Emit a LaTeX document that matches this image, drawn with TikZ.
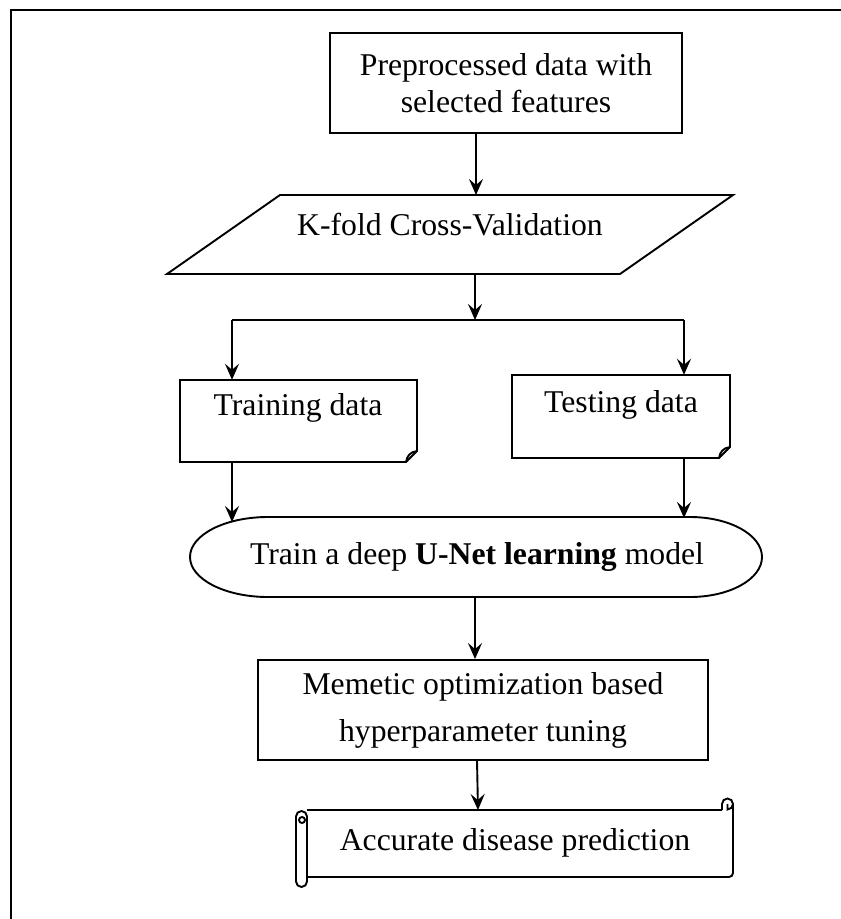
\documentclass[tikz,border=0pt]{standalone}
\usepackage{fontspec}
\setmainfont{Liberation Serif}
\usetikzlibrary{arrows.meta}
\begin{document}
\begin{tikzpicture}[x=1pt,y=-1pt,
  every node/.style={font=\fontsize{31.7}{37}\selectfont, inner sep=0pt},
  shp/.style={draw, line width=1.9pt},
  arr/.style={line width=1.9pt, -{Stealth[length=16pt,width=14pt,inset=6pt]}},
  ln/.style={line width=1.9pt},
  txt/.style={align=center}]
\useasboundingbox (0,0) rectangle (841,919);
% outer frame
\draw[line width=2.6pt] (841,10) -- (11,10) -- (11,919);

% box 1
\node[shp, txt, minimum width=352pt, minimum height=100pt] (b1) at (506,83) {Preprocessed data with\\selected features};

% parallelogram
\coordinate (kfTL) at (280,195);
\coordinate (kfTR) at (733,195);
\coordinate (kfBR) at (620,274);
\coordinate (kfBL) at (167,274);
\draw[shp] (kfTL) -- (kfTR) -- (kfBR) -- (kfBL) -- cycle;
\node[txt] (kf) at (450,225) {K-fold Cross-Validation};
\coordinate (kftop) at (476,195);
\coordinate (kfbot) at (475,274);

% split
\coordinate (split) at (475,320);
\coordinate (splitL) at (232,320);
\coordinate (splitR) at (684,320);

% training document
\draw[shp] (180,380) -- (417,380) -- (417,451) -- (406,462) -- (180,462) -- cycle;
\draw[shp] (406,462) .. controls (407,456) and (410,452) .. (417,451);
\node (train) at (298.5,421) [minimum width=237pt, minimum height=82pt] {};
\node[txt] (traintxt) at (298,408) {Training data};

% testing document
\draw[shp] (512,375) -- (730,375) -- (730,447) -- (719,458) -- (512,458) -- cycle;
\draw[shp] (719,458) .. controls (720,452) and (723,448) .. (730,447);
\node (test) at (621,416.5) [minimum width=218pt, minimum height=83pt] {};
\node[txt] (testtxt) at (621,405) {Testing data};

% terminal
\draw[shp] (268,517) -- (690,517) arc[start angle=90, end angle=-90, x radius=72pt, y radius=40pt]
  -- (268,597) arc[start angle=270, end angle=90, x radius=78pt, y radius=40pt] -- cycle;
\node (term) at (476,557) [minimum width=572pt, minimum height=80pt] {};
\node[txt] (termtxt) at (477,557) {Train a deep \textbf{U-Net learning} model};

% memetic box
\node[shp, txt, minimum width=450pt, minimum height=100pt, font=\fontsize{31.7}{47}\selectfont] (mem) at (483,710) {Memetic optimization based\\hyperparameter tuning};

% scroll
\draw[shp] (307,810) -- (722,810);
\draw[shp] (722,810) -- (722,804) arc[start angle=180, end angle=-90, radius=5.5pt] -- (727.5,804) ;
\draw[shp, rounded corners=4pt] (733,804) -- (733,877) -- (307,877);
\draw[shp, rounded corners=5.5pt] (296,811) rectangle (307,887);
\draw[shp] (302,820) circle[radius=3pt];
\node (scroll) at (515,843.5) [minimum width=426pt, minimum height=67pt] {};
\node[txt] (scrolltxt) at (515,843) {Accurate disease prediction};

% connectors
\draw[arr] (b1.south -| kftop) -- (kftop);
\draw[arr] (kfbot) -- (split);
\draw[ln] (splitL) -- (splitR);
\draw[arr] (splitL) -- (train.north -| splitL);
\draw[arr] (splitR) -- (test.north -| splitR);
\draw[arr] (232,462) -- (232,522);
\draw[arr] (684,458) -- (684,518);
\draw[arr] (term.south) ++(-1,0) -- (mem.north -| 475,0);
\draw[arr] (477,760) -- (478,810);
\end{tikzpicture}
\end{document}
